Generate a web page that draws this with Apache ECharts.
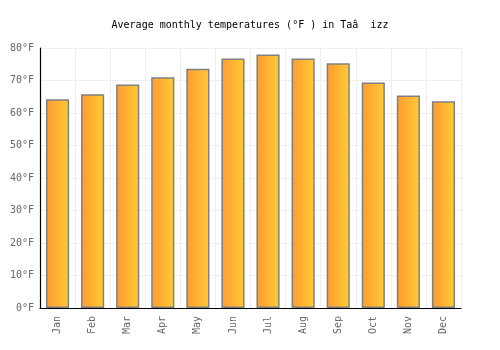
<!DOCTYPE html>
<html>
<head>
<meta charset="utf-8">
<script src="https://cdn.jsdelivr.net/npm/echarts@6/dist/echarts.min.js"></script>
<style>
  html, body { margin: 0; padding: 0; background: #fff; }
  #chart { width: 500px; height: 350px; }
</style>
</head>
<body>
<div id="chart"></div>
<script>
// data
const months = ['Jan', 'Feb', 'Mar', 'Apr', 'May', 'Jun', 'Jul', 'Aug', 'Sep', 'Oct', 'Nov', 'Dec']
const temps = [64.2, 65.8, 68.8, 71.0, 73.6, 76.8, 78.0, 76.8, 75.3, 69.4, 65.4, 63.6]
const titleText = 'Average monthly temperatures (°F ) in Taâ  izz'

const chart = echarts.init(document.getElementById('chart'))
const mono = 'DejaVu Sans Mono'

chart.setOption({
  animation: false,
  title: {
    text: titleText,
    left: 'center',
    top: 15,
    textStyle: { fontFamily: mono, fontSize: 10, fontWeight: 'normal', color: '#000' }
  },
  grid: { left: 40, right: 39, top: 48, bottom: 42 },
  xAxis: {
    type: 'category',
    data: months,
    axisLine: { lineStyle: { color: '#000', width: 1.2 } },
    axisTick: { show: false },
    splitLine: { show: true, lineStyle: { color: '#eeeeee' } },
    axisLabel: { rotate: 90, fontFamily: mono, fontSize: 10, color: '#666', margin: 8 }
  },
  yAxis: {
    type: 'value',
    min: 0,
    max: 80,
    interval: 10,
    axisLine: { show: true, lineStyle: { color: '#000', width: 1.2 } },
    axisTick: { show: false },
    splitLine: { lineStyle: { color: '#eeeeee' } },
    axisLabel: { formatter: '{value}°F', fontFamily: mono, fontSize: 10, color: '#666', margin: 6 }
  },
  series: [{
    type: 'bar',
    data: temps,
    barWidth: '66%',
    itemStyle: {
      color: new echarts.graphic.LinearGradient(0, 0, 1, 0, [
        { offset: 0, color: '#ff9a33' },
        { offset: 1, color: '#ffcc33' }
      ]),
      borderColor: '#808080',
      borderWidth: 1.5
    }
  }]
})
</script>
</body>
</html>
